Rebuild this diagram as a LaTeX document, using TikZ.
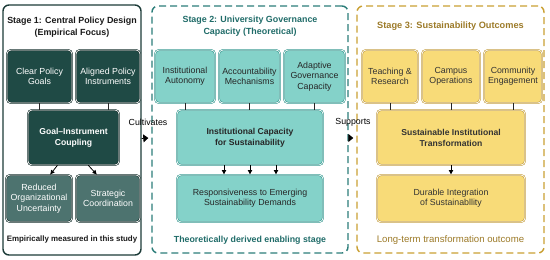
\documentclass[tikz,border=0pt]{standalone}
\usepackage{fontspec}
\setmainfont{Liberation Sans}
\usetikzlibrary{arrows.meta,positioning}
\definecolor{frameone}{HTML}{1C3B38}
\definecolor{deepfill}{HTML}{1F4A45}
\definecolor{deepline}{HTML}{16302D}
\definecolor{greyfill}{HTML}{4D736F}
\definecolor{tealframe}{HTML}{2B7D79}
\definecolor{tealfill}{HTML}{84D2C9}
\definecolor{tealline}{HTML}{3C9B93}
\definecolor{tealtext}{HTML}{1F6B68}
\definecolor{goldframe}{HTML}{C9A033}
\definecolor{goldfill}{HTML}{F8DB78}
\definecolor{goldline}{HTML}{C7A248}
\definecolor{goldtext}{HTML}{9C7A28}

\begin{document}
\begin{tikzpicture}[x=1pt, y=-1pt,
  font=\fontsize{8.8}{10.4}\selectfont,
  stage/.style={rounded corners=6pt, line width=1.4pt, inner sep=0pt},
  b/.style={draw, double=white, double distance=0.7pt, line width=0.6pt, rounded corners=4pt, align=center, inner sep=1pt},
  bd/.style={b, fill=deepfill, draw=deepline, text=white},
  bg/.style={b, fill=greyfill, draw=deepline, text=white},
  bt/.style={b, fill=tealfill, draw=tealline, text=black!85},
  bo/.style={b, fill=goldfill, draw=goldline, text=black!80},
  top/.style={minimum height=53pt},
  mid/.style={minimum height=55pt, font=\fontsize{8.6}{11}\selectfont\bfseries},
  low/.style={minimum height=47pt},
  title/.style={align=center, font=\fontsize{8.9}{12}\selectfont\bfseries},
  ln/.style={line width=0.8pt, draw=black!85},
  pf/.style={-{Latex[length=1.6mm, width=1.7mm]}, line width=0.8pt},
  bigpf/.style={-{Triangle[length=5pt, width=8pt]}, line width=0.8pt}
]
\useasboundingbox (0,0) rectangle (550,260);
\node[stage, draw=frameone, minimum width=138pt, minimum height=250pt] (s1) at (72,130) {};
\node[stage, draw=tealframe, dash pattern=on 7pt off 4pt, minimum width=196pt, minimum height=247pt] (s2) at (250,129.5) {};
\node[stage, draw=goldframe, dash pattern=on 7pt off 4pt, minimum width=187pt, minimum height=247pt] (s3) at (450.5,129.5) {};

\node[title, text=black!90] (t1) at (72,27) {Stage 1: Central Policy Design\\(Empirical Focus)};
\node[bd, top, minimum width=65pt] (goals) at (39.5,76.5) {Clear Policy\\Goals};
\node[bd, top, minimum width=64pt] (instr) at (108,76.5) {Aligned Policy\\Instruments};
\node[bd, mid, minimum width=91pt] (coupling) at (73.5,137.5) {Goal--Instrument\\Coupling};
\node[bg, low, minimum width=66pt] (uncert) at (39,198.5) {Reduced\\Organizational\\Uncertainty};
\node[bg, low, minimum width=64pt] (coord) at (108,198.5) {Strategic\\Coordination};
\node[font=\fontsize{7.9}{9}\selectfont\bfseries, text=black!90] (f1) at (72,239.5) {Empirically measured in this study};

\node[title, text=tealtext] (t2) at (250,26.5) {Stage 2: University Governance\\Capacity (Theoretical)};
\node[bt, top, minimum width=60pt] (auto) at (185,76.5) {Institutional\\Autonomy};
\node[bt, top, minimum width=61pt] (acc) at (249.5,76.5) {Accountability\\Mechanisms};
\node[bt, top, minimum width=61pt] (adapt) at (314.5,76.5) {Adaptive\\Governance\\Capacity};
\node[bt, mid, minimum width=146pt] (cap) at (250,137.5) {Institutional Capacity\\for Sustainability};
\node[bt, low, minimum width=146pt] (resp) at (250,198.5) {Responsiveness to Emerging\\Sustainability Demands};
\node[font=\fontsize{8.8}{9}\selectfont\bfseries, text=tealtext] (f2) at (250,240) {Theoretically derived enabling stage};

\node[title, text=goldtext, font=\fontsize{9.2}{12}\selectfont\bfseries] (t3) at (450.5,26.5) {Stage 3: Sustainability Outcomes};
\node[bo, top, minimum width=56pt] (teach) at (390,76.5) {Teaching \&\\Research};
\node[bo, top, minimum width=58pt] (campus) at (451,76.5) {Campus\\Operations};
\node[bo, top, minimum width=58pt] (comm) at (513,76.5) {Community\\Engagement};
\node[bo, mid, minimum width=148pt] (trans) at (451,137.5) {Sustainable Institutional\\Transformation};
\node[bo, low, minimum width=148pt] (dur) at (451,198.5) {Durable Integration\\of Sustainabllity};
\node[font=\fontsize{9.6}{10}\selectfont, text=goldtext] (f3) at (450.5,240) {Long-term transformation outcome};

\node (cult) at (148,122) {Cultivates};
\node (supp) at (353,122) {Supports};

\draw[ln] (goals.south) -- (goals.south |- coupling.north); \draw[ln] (instr.south) -- (instr.south |- coupling.north);
\draw[pf] (coupling.240) -- (uncert.65); \draw[pf] (coupling.298) -- (coord.115);
\draw[ln] (auto.south) -- (auto.south |- cap.north); \draw[ln] (acc.south) -- (acc.south |- cap.north);
\draw[ln] (adapt.south) -- (adapt.south |- cap.north);
\draw[pf] ([xshift=-26pt]cap.south) -- ([xshift=-26pt]resp.north); \draw[pf] (cap.south) -- (resp.north);
\draw[pf] ([xshift=26pt]cap.south) -- ([xshift=26pt]resp.north);
\draw[ln] (teach.south) -- (teach.south |- trans.north); \draw[ln] (campus.south) -- (campus.south |- trans.north);
\draw[ln] (comm.south) -- (comm.south |- trans.north);
\draw[pf] (trans.south) -- (dur.north);
\draw[bigpf] ([yshift=-8.5pt]s1.east) -- ([yshift=-8.5pt, xshift=-3pt]s2.west);
\draw[bigpf] ([yshift=-8.5pt]s2.east) -- ([yshift=-8.5pt, xshift=-3pt]s3.west);
\end{tikzpicture}
\end{document}
